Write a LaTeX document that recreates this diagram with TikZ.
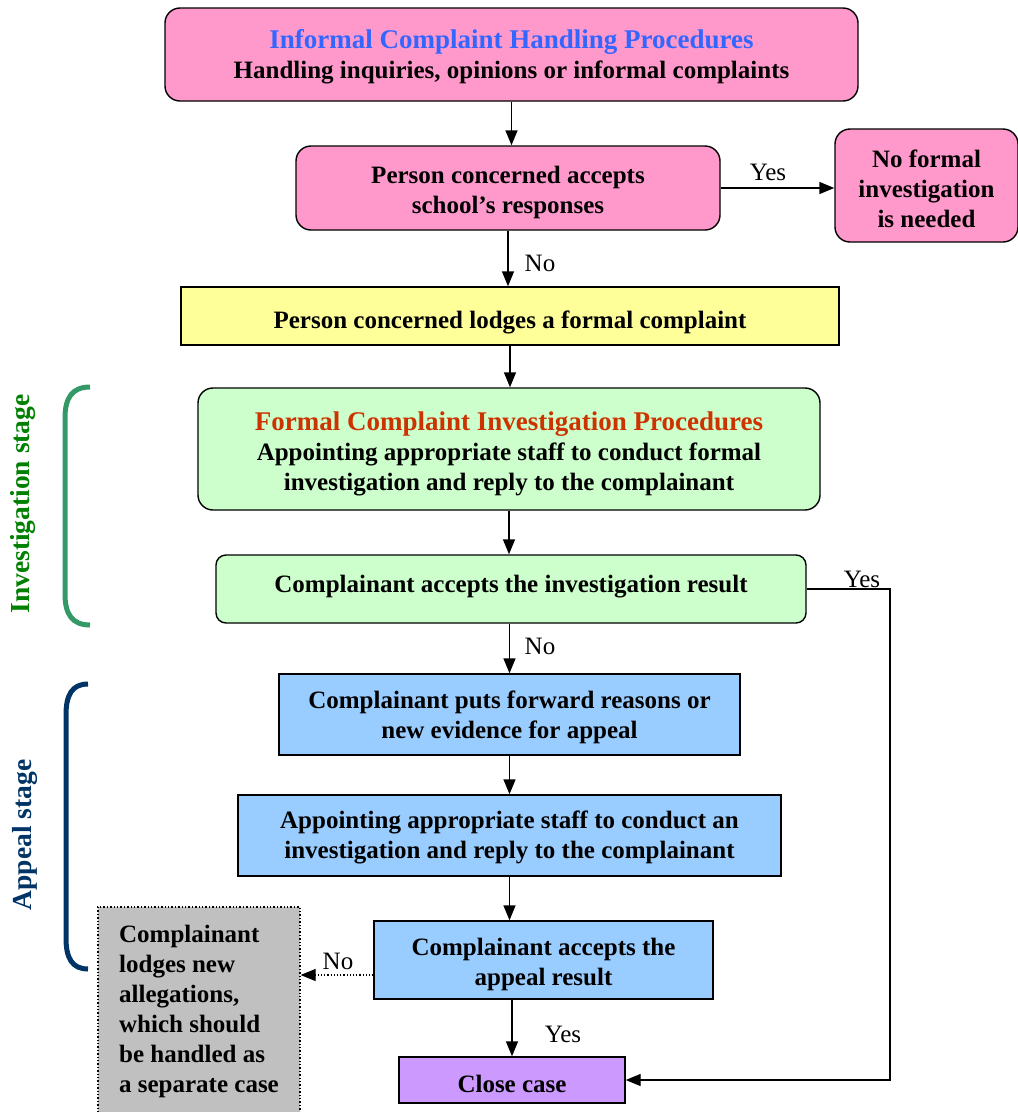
\documentclass[tikz,border=0pt]{standalone}
\usepackage{fontspec}
\setmainfont{Liberation Serif}
\usetikzlibrary{arrows.meta}
\definecolor{pinkf}{HTML}{FF99CC}
\definecolor{yellowf}{HTML}{FFFF99}
\definecolor{greenf}{HTML}{CCFFCC}
\definecolor{bluef}{HTML}{99CCFF}
\definecolor{grayf}{HTML}{C0C0C0}
\definecolor{purplef}{HTML}{CC99FF}
\definecolor{titleblue}{HTML}{3366FF}
\definecolor{titlered}{HTML}{CC3300}
\definecolor{invgreen}{HTML}{339966}
\definecolor{invtext}{HTML}{008000}
\definecolor{appblue}{HTML}{003366}
\begin{document}
\begin{tikzpicture}[x=1pt,y=-1pt,
  box/.style={draw=black, line width=1.4pt, inner sep=0pt},
  rbox/.style={box, rounded corners=15pt},
  txt/.style={align=center, inner sep=0pt, font=\bfseries\fontsize{25}{30}\selectfont},
  arr/.style={line width=1.4pt, -{Triangle[length=15pt,width=12pt]}},
  dotarr/.style={line width=1.2pt, dotted, -{Triangle[length=15pt,width=12pt]}},
  lbl/.style={font=\fontsize{25}{28}\selectfont, inner sep=0pt},
  stagelbl/.style={font=\bfseries\fontsize{27.5}{30}\selectfont, rotate=90, inner sep=0pt},
  bracket/.style={line width=5pt}]
\useasboundingbox (0,0) rectangle (1018,1112);

% shapes
\node[rbox, fill=pinkf, minimum width=693pt, minimum height=93pt] (b1) at (511.5,54.5) {};
\node[rbox, fill=pinkf, minimum width=424pt, minimum height=84pt] (b2) at (508,188) {};
\node[rbox, fill=pinkf, minimum width=183pt, minimum height=113pt] (nf) at (926.5,185.5) {};
\node[box, fill=yellowf, minimum width=658pt, minimum height=58pt] (yl) at (510,316) {};
\node[rbox, fill=greenf, minimum width=622pt, minimum height=122pt] (g1) at (509,449) {};
\node[rbox, rounded corners=10pt, fill=greenf, minimum width=590pt, minimum height=68pt] (g2) at (511,589) {};
\node[box, fill=bluef, minimum width=461pt, minimum height=81pt] (bl1) at (509.5,714.5) {};
\node[box, fill=bluef, minimum width=543pt, minimum height=81pt] (bl2) at (509.5,835.5) {};
\node[box, fill=bluef, minimum width=339pt, minimum height=78pt] (bl3) at (543.5,960) {};
\node[box, dotted, line width=1.2pt, fill=grayf, minimum width=202pt, minimum height=208pt] (gr) at (199,1011) {};
\node[box, fill=purplef, minimum width=226pt, minimum height=46pt] (cl) at (512,1080) {};

% texts
\node[txt] (b1t) at ([yshift=-2.5pt]b1.center)
  {\textcolor{titleblue}{\fontsize{27}{31}\selectfont Informal Complaint Handling Procedures}\\Handling inquiries, opinions or informal complaints};
\node[txt] (b2t) at ([yshift=-4pt]b2.center) {Person concerned accepts\\school’s responses};
\node[txt] (nft) at ([yshift=-3pt]nf.center) {No formal\\investigation\\is needed};
\node[txt] (ylt) at ([yshift=-6pt]yl.center) {Person concerned lodges a formal complaint};
\node[txt] (g1t) at ([yshift=-4.5pt]g1.center)
  {\textcolor{titlered}{\fontsize{27}{31}\selectfont Formal Complaint Investigation Procedures}\\Appointing appropriate staff to conduct formal\\investigation and reply to the complainant};
\node[txt] (g2t) at ([yshift=2.5pt]g2.center) {Complainant accepts the investigation result};
\node[txt] (bl1t) at ([yshift=-3pt]bl1.center) {Complainant puts forward reasons or\\new evidence for appeal};
\node[txt] (bl2t) at ([yshift=-2pt]bl2.center) {Appointing appropriate staff to conduct an\\investigation and reply to the complainant};
\node[txt] (bl3t) at ([yshift=-4pt]bl3.center) {Complainant accepts the\\appeal result};
\node[txt, align=left] (grt) at (gr.center) {Complainant\\lodges new\\allegations,\\which should\\be handled as\\a separate case};
\node[txt] (clt) at ([yshift=-4pt]cl.center) {Close case};

% connectors
\draw[arr] (b1) -- (b1 |- b2.north);
\draw[arr] (b2) -- (nf.west |- b2);
\draw[arr] (b2) -- (b2 |- yl.north);
\draw[arr] (yl) -- (yl |- g1.north);
\draw[arr] (g1) -- (g1 |- g2.north);
\draw[arr] (g2.south -| bl1) -- (bl1.north);
\draw[arr] (bl1) -- (bl1 |- bl2.north);
\draw[arr] (bl2) -- (bl2 |- bl3.north);
\draw[arr] (bl3.south -| cl) -- (cl.north);
\draw[dotarr] ([yshift=-15pt]bl3.west) -- ([yshift=-15pt]bl3.west -| gr.east);
\coordinate (yc) at (890,589);
\draw[arr] (g2.east) -- (yc) |- (cl.east);

% labels
\node[lbl] (y1) at (768,172) {Yes};
\node[lbl] (n1) at (540,263) {No};
\node[lbl] (y2) at (862,579) {Yes};
\node[lbl] (n2) at (540,646) {No};
\node[lbl] (n3) at (338,961) {No};
\node[lbl] (y3) at (563,1034) {Yes};

% stage brackets
\draw[bracket, invgreen] (90,387) .. controls (72,387) and (65,398) .. (65,418) -- (65,594) .. controls (65,614) and (72,625) .. (90,625);
\node[stagelbl, text=invtext] (inv) at (23,504) {Investigation stage};
\draw[bracket, appblue] (88,684) .. controls (72,684) and (66,695) .. (66,715) -- (66,938) .. controls (66,958) and (72,969) .. (88,969);
\node[stagelbl, text=appblue] (app) at (25,835) {Appeal stage};
\end{tikzpicture}
\end{document}
